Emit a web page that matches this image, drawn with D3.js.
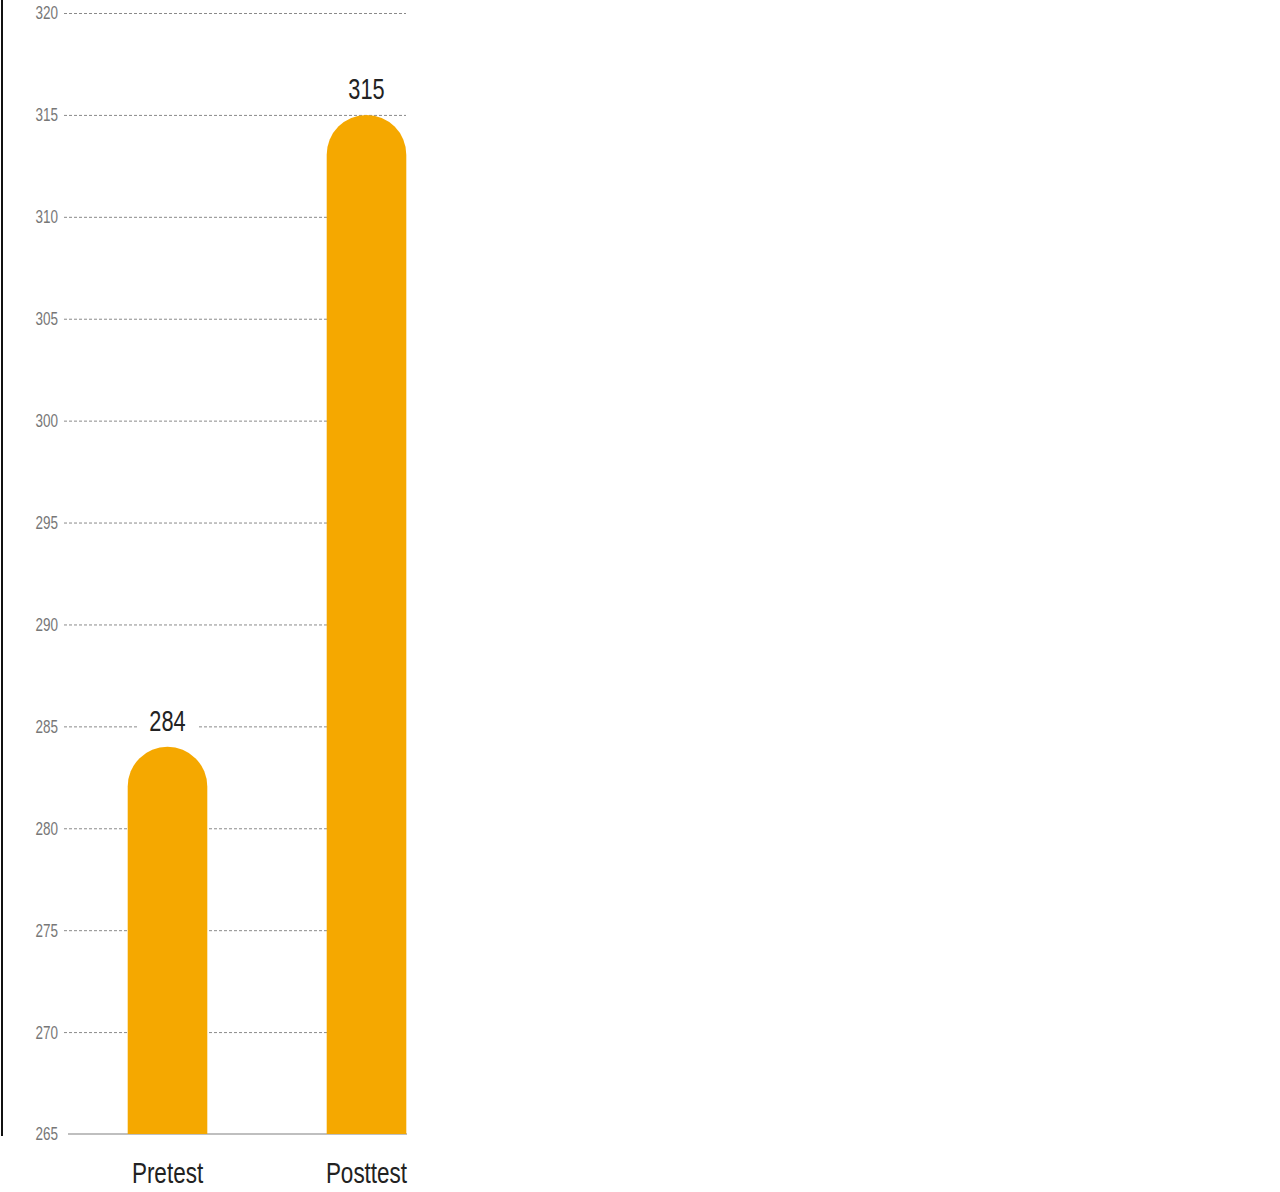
<!DOCTYPE html>
<html><head><meta charset="utf-8">
<script src="https://cdn.jsdelivr.net/npm/d3@7"></script>
<style>
html,body{margin:0;padding:0;background:#fff;}
svg{display:block;}
text{font-family:"Liberation Sans","Arial",sans-serif;}
</style></head>
<body>
<svg id="chart" width="1280" height="1192"></svg>
<script>
const categories = ["Pretest", "Posttest"];
const values = [284, 315];
const yTicks = [265, 270, 275, 280, 285, 290, 295, 300, 305, 310, 315, 320];

const svg = d3.select("#chart");
const x = d3.scaleBand().domain(categories).range([68, 466]).paddingInner(0.6).paddingOuter(0.3);
const y = d3.scaleLinear().domain([265, 320]).range([1134, 13]);
const sx = 0.75; // condensed text

// left black line
svg.append("line").attr("x1", 2).attr("x2", 2).attr("y1", 0).attr("y2", 1136)
  .attr("stroke", "#111").attr("stroke-width", 2);

// gridlines
svg.selectAll(".grid").data(yTicks.filter(d => d !== 265)).enter().append("line")
  .attr("x1", 64).attr("x2", 406)
  .attr("y1", d => y(d) + 0.5).attr("y2", d => y(d) + 0.5)
  .attr("stroke", "#8a8a8a").attr("stroke-width", 1).attr("stroke-dasharray", "3,2");

// baseline
svg.append("line").attr("x1", 68).attr("x2", 407).attr("y1", y(265)).attr("y2", y(265))
  .attr("stroke", "#aaa").attr("stroke-width", 1.5);

// tick labels
svg.selectAll(".tick").data(yTicks).enter().append("text")
  .attr("transform", d => `translate(58,${y(d)}) scale(${sx},1)`)
  .attr("dy", "0.36em")
  .attr("text-anchor", "end").attr("font-size", 18).attr("fill", "#777")
  .text(d => d);

// bars with rounded top
const bw = x.bandwidth();
const r = bw / 2;
svg.selectAll(".bar").data(categories).enter().append("path")
  .attr("fill", "#F5A800")
  .attr("d", (c, i) => {
    const x0 = x(c), x1 = x0 + bw, top = y(values[i]), bot = y(265);
    return `M${x0},${bot} L${x0},${top + r} A${r},${r} 0 0 1 ${x1},${top + r} L${x1},${bot} Z`;
  });

// value labels with white background
const lbl = svg.selectAll(".val").data(categories).enter().append("g");
lbl.append("rect")
  .attr("x", c => x(c) + bw / 2 - 30).attr("y", (c, i) => y(values[i]) - 40)
  .attr("width", 60).attr("height", 32).attr("fill", "#fff");
lbl.append("text")
  .attr("transform", (c, i) => `translate(${x(c) + bw / 2},${y(values[i]) - 16}) scale(${sx},1)`)
  .attr("text-anchor", "middle").attr("font-size", 29).attr("fill", "#222")
  .text((c, i) => values[i]);

// category labels
svg.selectAll(".cat").data(categories).enter().append("text")
  .attr("transform", c => `translate(${x(c) + bw / 2},1183) scale(${sx},1)`)
  .attr("text-anchor", "middle").attr("font-size", 30).attr("fill", "#222")
  .text(c => c);
</script>
</body></html>
